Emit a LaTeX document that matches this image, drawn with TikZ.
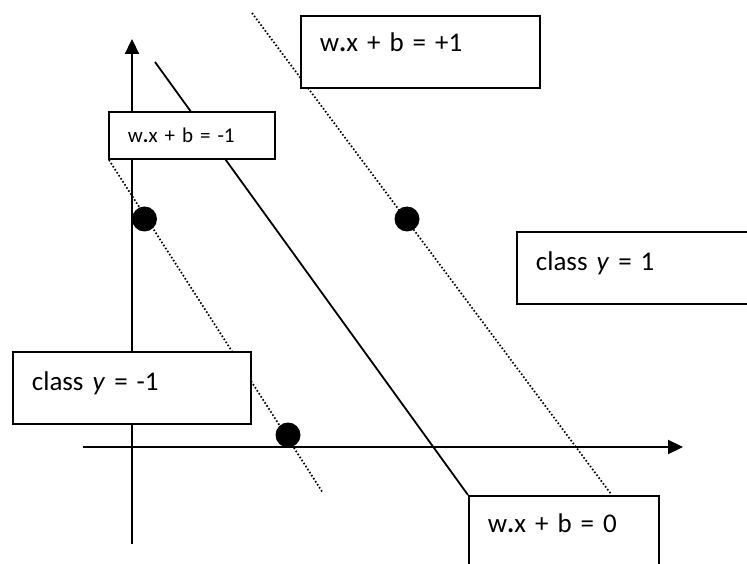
\documentclass[tikz,border=0pt]{standalone}
\usepackage{fontspec}
\setmainfont{Carlito}
\usetikzlibrary{arrows.meta,positioning}

\tikzset{
  axis/.style={-{Triangle[length=15pt,width=14pt]}, line width=2.2pt},
  margin/.style={line width=1.7pt, dash pattern=on 1.6pt off 2pt},
  hyper/.style={line width=1.8pt},
  sv/.style={circle, fill=black, inner sep=0pt, minimum size=25pt},
  tbox/.style 2 args={draw, line width=1.8pt, fill=white, anchor=north west,
    inner ysep=0pt, inner xsep=19pt, align=left,
    text height=#1, text depth=#2},
  big/.style={font=\fontsize{27}{30}\selectfont},
  small/.style={font=\fontsize{21}{24}\selectfont}
}

\begin{document}
\begin{tikzpicture}[x=1pt, y=-1pt]
  \useasboundingbox (0,0) rectangle (747,564);

  % axes
  \coordinate (ybot) at (132,544);
  \coordinate (ytop) at (132,39);
  \coordinate (xleft) at (83,447);
  \coordinate (xright) at (683,447);
  \draw[axis] (ybot) -- (ytop);
  \draw[axis] (xleft) -- (xright);

  % hyperplanes
  \coordinate (hstart) at (155,62);
  \coordinate (pstart) at (252,13);
  \coordinate (pend) at (611,494);
  \coordinate (mstart) at (109,160);
  \coordinate (mend) at (323,493);
  \draw[margin] (pstart) -- (pend);
  \draw[margin] (mstart) -- (mend);

  % boxes
  \node[tbox={36pt}{36pt}, big, text width=201pt] (plus) at (300,15) {w{\bfseries .}x + b = +1};
  \node[tbox={39pt}{33pt}, big, text width=200pt] (neg) at (12,351) {class \textit{y} = -1};
  \node[tbox={39pt}{33pt}, big, text width=212pt] (pos) at (516,231) {class \textit{y} = 1};
  \node[tbox={37pt}{35pt}, big, text width=152pt] (zero) at (468,495) {w{\bfseries .}x + b = 0};
  \draw[hyper] (hstart) -- (zero.north west);
  \node[tbox={31pt}{16pt}, small, text width=128pt] (minus) at (108,111) {w{\bfseries .}x + b = -1};

  % support vectors
  \node[sv] (sv1) at (144.5,219) {};
  \node[sv] (sv2) at (407,219) {};
  \node[sv] (sv3) at (288,435) {};
\end{tikzpicture}
\end{document}
